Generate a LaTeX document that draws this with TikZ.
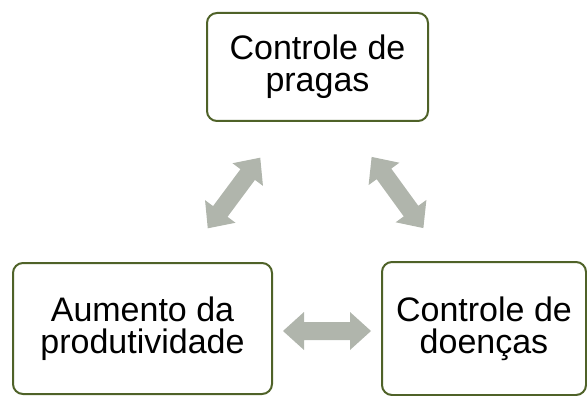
\documentclass[tikz,border=0pt]{standalone}
\usepackage{fontspec}
\setmainfont{Liberation Sans}
\definecolor{boxline}{RGB}{79,98,40}
\definecolor{arrowgray}{RGB}{176,181,172}
\tikzset{
  boxnode/.style={draw=boxline, line width=2pt, rounded corners=10pt, fill=white,
    align=center, inner sep=0pt, font=\fontsize{34}{32}\selectfont},
  blockarrow/.style={fill=arrowgray, draw=none}
}
\newcommand{\blockarr}[2]{%
  \fill[blockarrow, shift={(#1)}, rotate=#2]
    (-44pt,0pt) -- (-23pt,19pt) -- (-23pt,9pt) -- (23pt,9pt) -- (23pt,19pt) -- (44pt,0pt)
    -- (23pt,-19pt) -- (23pt,-9pt) -- (-23pt,-9pt) -- (-23pt,-19pt) -- cycle;}
\begin{document}
\begin{tikzpicture}[x=1pt,y=1pt]
\useasboundingbox (0,0) rectangle (587,-396);
\node[boxnode, minimum width=221pt, minimum height=108pt] (pragas) at (317.5,-67) {Controle de\\pragas};
\node[boxnode, minimum width=259pt, minimum height=131pt] (aumento) at (142.5,-328.5) {Aumento da\\produtividade};
\node[boxnode, minimum width=204pt, minimum height=133pt] (doencas) at (484,-328.5) {Controle de\\doenças};
\coordinate (a1) at (234,-193);
\coordinate (a2) at (397.5,-192.5);
\coordinate (a3) at (327,-331);
\blockarr{a1}{53.4}
\blockarr{a2}{-54}
\blockarr{a3}{0}
\end{tikzpicture}
\end{document}
